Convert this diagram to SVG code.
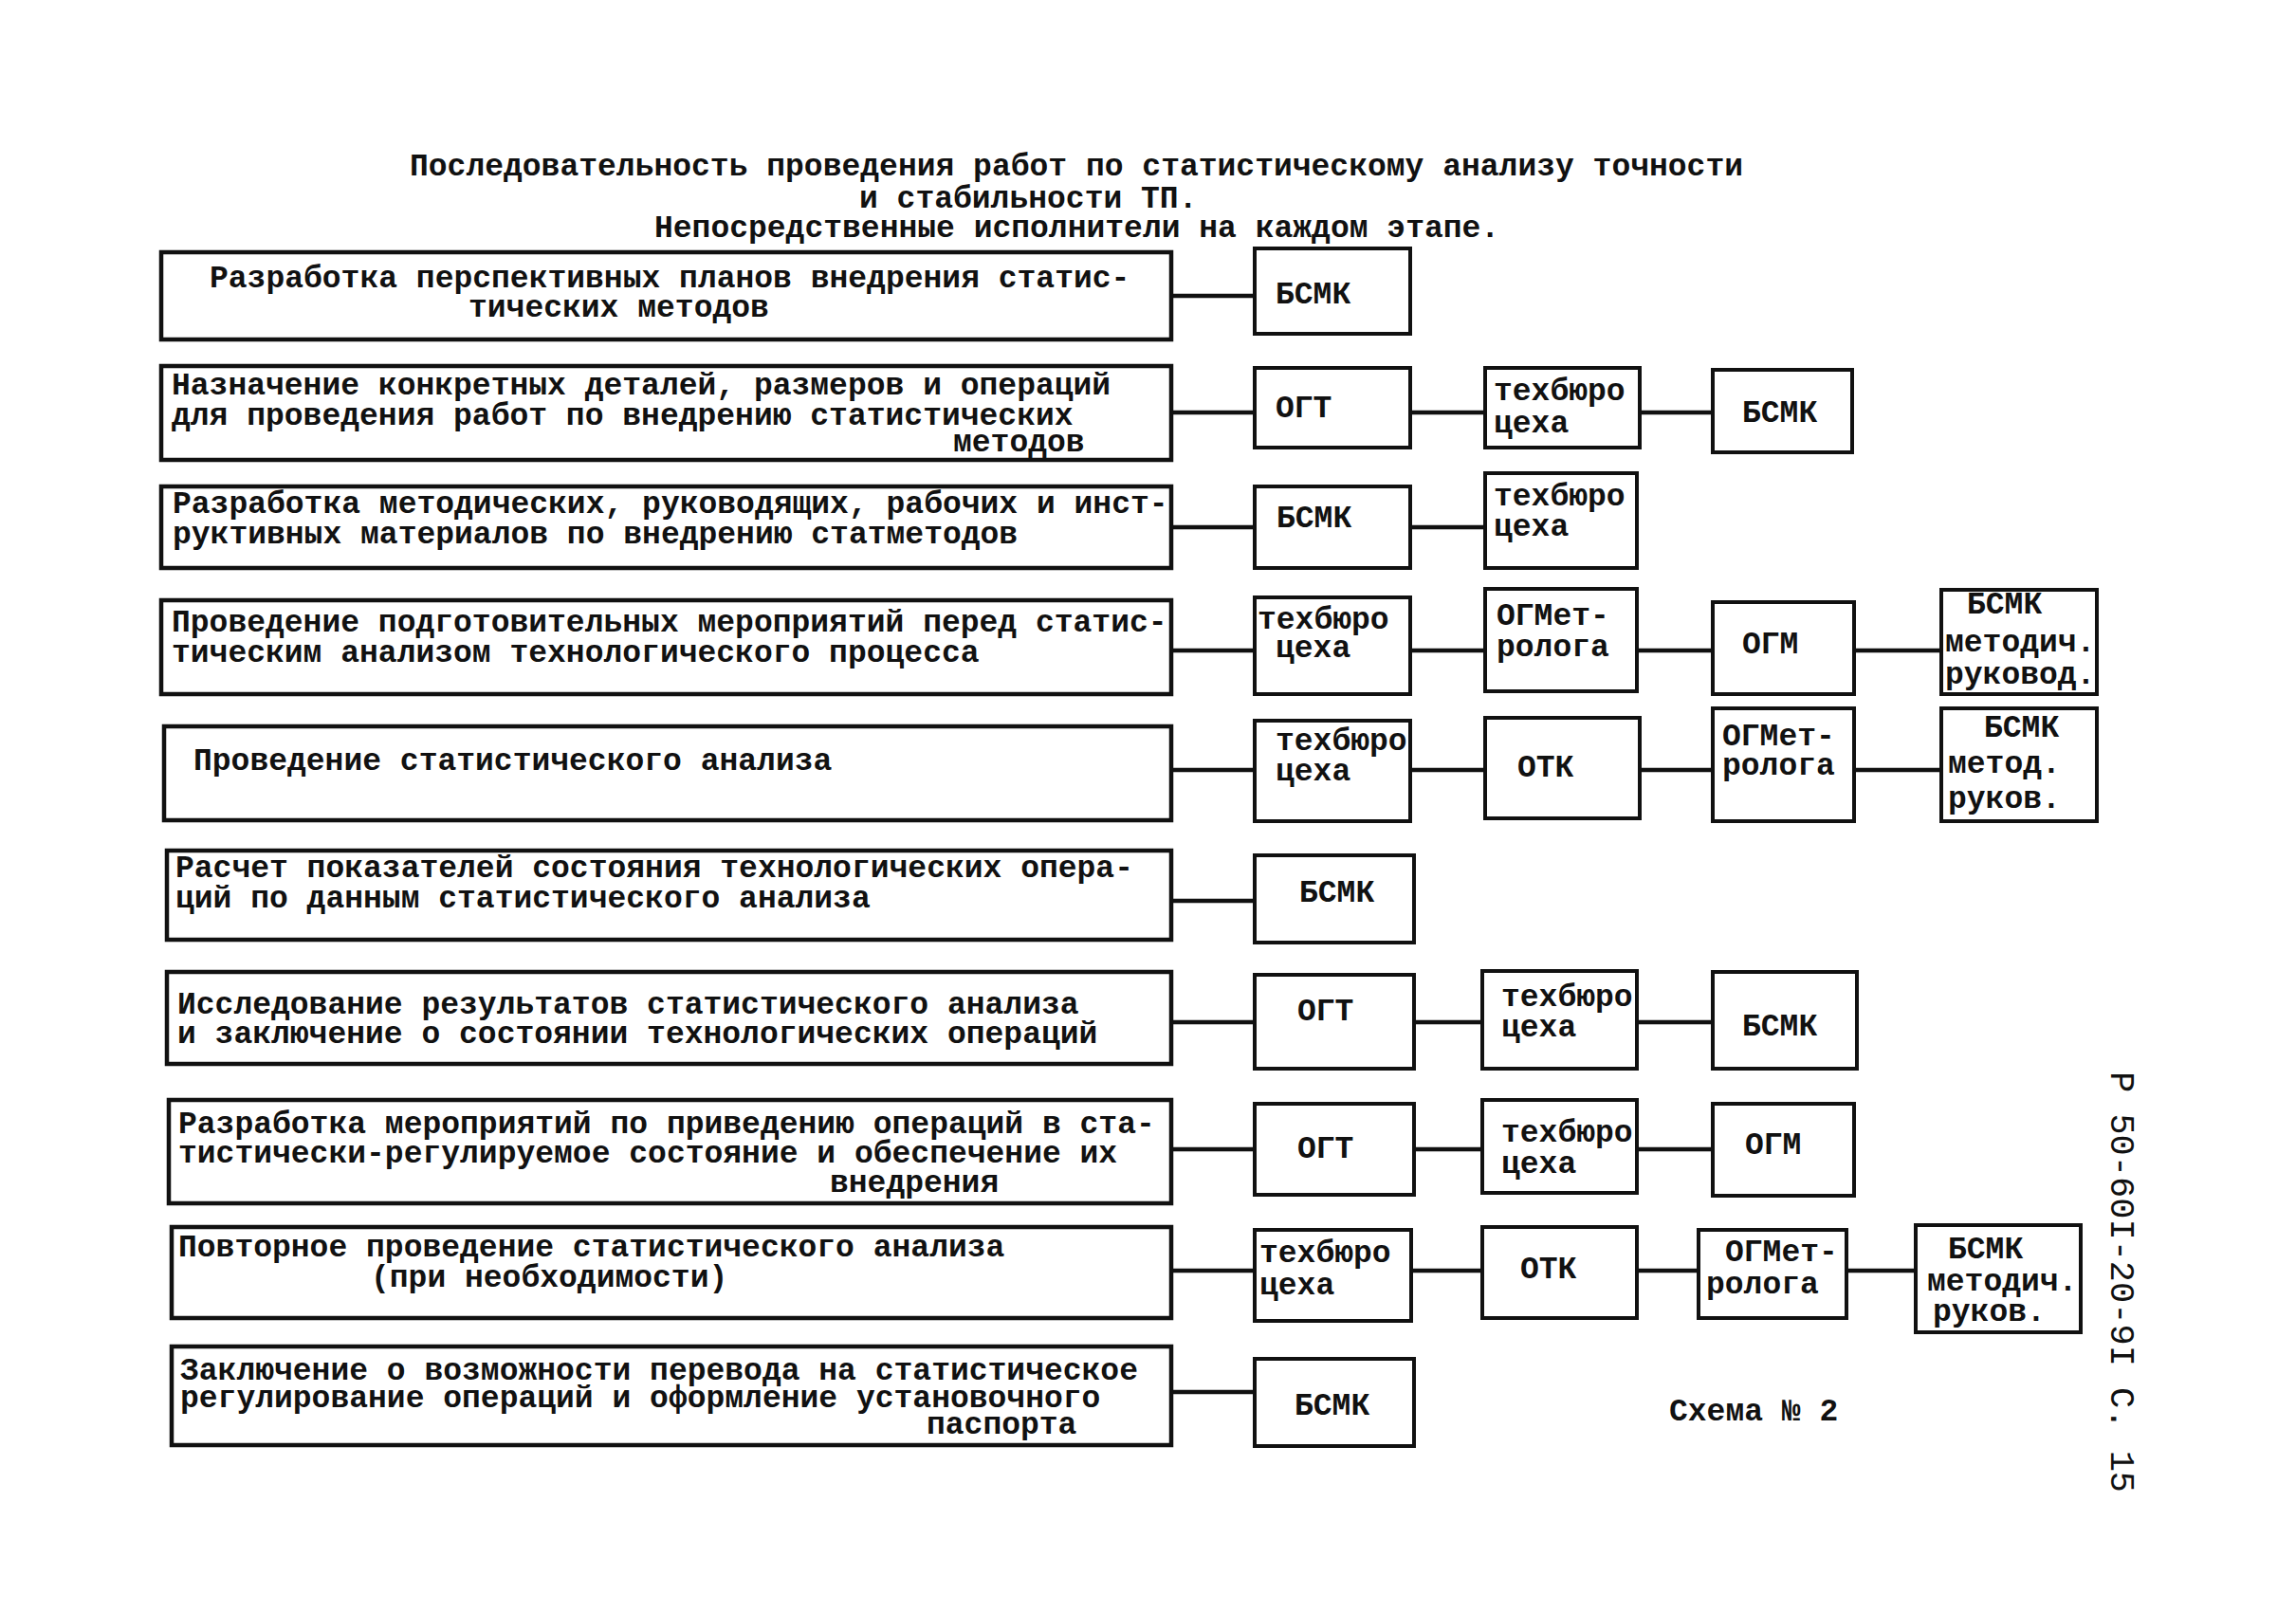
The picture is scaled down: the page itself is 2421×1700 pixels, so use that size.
<svg xmlns="http://www.w3.org/2000/svg" width="2421" height="1700" viewBox="0 0 2421 1700">
<style>
.bg{fill:#ffffff}
.box{fill:#ffffff;stroke:#111;stroke-width:4.5}
.sbox{fill:#ffffff;stroke:#111;stroke-width:4}
.t{font-family:"Liberation Mono","DejaVu Sans Mono",monospace;font-weight:bold;font-size:33px;fill:#111}
.c{stroke:#111;stroke-width:4.5;fill:none}
</style>
<rect class="bg" x="0" y="0" width="2421" height="1700"/>
<g id="title">
<text class="t" x="432" y="185">Последовательность проведения работ по статистическому анализу точности</text>
<text class="t" x="906" y="219">и стабильности ТП.</text>
<text class="t" x="690" y="250">Непосредственные исполнители на каждом этапе.</text>
</g>
<g id="connectors">
<path class="c" d="M1235 312H1323"/>
<path class="c" d="M1235 435H1323M1487 435H1566M1729 435H1806"/>
<path class="c" d="M1235 556H1323M1487 556H1566"/>
<path class="c" d="M1235 686H1323M1487 686H1566M1726 686H1806M1955 686H2047"/>
<path class="c" d="M1235 812H1323M1487 812H1566M1729 812H1806M1955 812H2047"/>
<path class="c" d="M1235 950H1323"/>
<path class="c" d="M1235 1078H1323M1491 1078H1563M1726 1078H1806"/>
<path class="c" d="M1235 1212H1323M1491 1212H1563M1726 1212H1806"/>
<path class="c" d="M1235 1340H1323M1488 1340H1563M1726 1340H1791M1947 1340H2020"/>
<path class="c" d="M1235 1468H1323"/>
</g>
<g id="step1"><rect class="box" x="170" y="266" width="1065" height="92"/>
<text class="t" x="221" y="303">Разработка перспективных планов внедрения статис-</text>
<text class="t" x="494" y="334">тических методов</text></g>
<g id="step2"><rect class="box" x="170" y="386" width="1065" height="99"/>
<text class="t" x="181" y="416">Назначение конкретных деталей, размеров и операций</text>
<text class="t" x="181" y="448">для проведения работ по внедрению статистических</text>
<text class="t" x="1005" y="476">методов</text></g>
<g id="step3"><rect class="box" x="170" y="513" width="1065" height="86"/>
<text class="t" x="182" y="541">Разработка методических, руководящих, рабочих и инст-</text>
<text class="t" x="182" y="573">руктивных материалов по внедрению статметодов</text></g>
<g id="step4"><rect class="box" x="170" y="633" width="1065" height="99"/>
<text class="t" x="181" y="666">Проведение подготовительных мероприятий перед статис-</text>
<text class="t" x="181" y="698">тическим анализом технологического процесса</text></g>
<g id="step5"><rect class="box" x="173" y="766" width="1062" height="99"/>
<text class="t" x="204" y="812">Проведение статистического анализа</text></g>
<g id="step6"><rect class="box" x="176" y="897" width="1059" height="94"/>
<text class="t" x="185" y="925">Расчет показателей состояния технологических опера-</text>
<text class="t" x="185" y="957">ций по данным статистического анализа</text></g>
<g id="step7"><rect class="box" x="176" y="1025" width="1059" height="97"/>
<text class="t" x="187" y="1069">Исследование результатов статистического анализа</text>
<text class="t" x="187" y="1100">и заключение о состоянии технологических операций</text></g>
<g id="step8"><rect class="box" x="178" y="1160" width="1057" height="109"/>
<text class="t" x="188" y="1195">Разработка мероприятий по приведению операций в ста-</text>
<text class="t" x="188" y="1226">тистически-регулируемое состояние и обеспечение их</text>
<text class="t" x="875" y="1257">внедрения</text></g>
<g id="step9"><rect class="box" x="181" y="1294" width="1054" height="96"/>
<text class="t" x="188" y="1325">Повторное проведение статистического анализа</text>
<text class="t" x="391" y="1357">(при необходимости)</text></g>
<g id="step10"><rect class="box" x="181" y="1420" width="1054" height="104"/>
<text class="t" x="190" y="1455">Заключение о возможности перевода на статистическое</text>
<text class="t" x="190" y="1484">регулирование операций и оформление установочного</text>
<text class="t" x="977" y="1512">паспорта</text></g>

<g id="r1a"><rect class="sbox" x="1323" y="262" width="164" height="90"/><text class="t" x="1345" y="320">БСМК</text></g>

<g id="r2a"><rect class="sbox" x="1323" y="388" width="164" height="84"/><text class="t" x="1345" y="440">ОГТ</text></g>
<g id="r2b"><rect class="sbox" x="1566" y="388" width="163" height="84"/><text class="t" x="1575" y="422">техбюро</text><text class="t" x="1575" y="456">цеха</text></g>
<g id="r2c"><rect class="sbox" x="1806" y="390" width="147" height="87"/><text class="t" x="1837" y="445">БСМК</text></g>

<g id="r3a"><rect class="sbox" x="1323" y="513" width="164" height="86"/><text class="t" x="1346" y="556">БСМК</text></g>
<g id="r3b"><rect class="sbox" x="1566" y="499" width="160" height="100"/><text class="t" x="1575" y="533">техбюро</text><text class="t" x="1575" y="565">цеха</text></g>

<g id="r4a"><rect class="sbox" x="1323" y="630" width="164" height="102"/><text class="t" x="1326" y="663">техбюро</text><text class="t" x="1345" y="693">цеха</text></g>
<g id="r4b"><rect class="sbox" x="1566" y="621" width="160" height="108"/><text class="t" x="1578" y="659">ОГМет-</text><text class="t" x="1578" y="692">ролога</text></g>
<g id="r4c"><rect class="sbox" x="1806" y="635" width="149" height="97"/><text class="t" x="1837" y="689">ОГМ</text></g>
<g id="r4d"><rect class="sbox" x="2047" y="622" width="164" height="110"/><text class="t" x="2074" y="647">БСМК</text><text class="t" x="2051" y="687">методич.</text><text class="t" x="2051" y="721">руковод.</text></g>

<g id="r5a"><rect class="sbox" x="1323" y="760" width="164" height="106"/><text class="t" x="1345" y="791">техбюро</text><text class="t" x="1345" y="823">цеха</text></g>
<g id="r5b"><rect class="sbox" x="1566" y="757" width="163" height="106"/><text class="t" x="1600" y="819">ОТК</text></g>
<g id="r5c"><rect class="sbox" x="1806" y="747" width="149" height="119"/><text class="t" x="1816" y="786">ОГМет-</text><text class="t" x="1816" y="817">ролога</text></g>
<g id="r5d"><rect class="sbox" x="2047" y="747" width="164" height="119"/><text class="t" x="2092" y="777">БСМК</text><text class="t" x="2054" y="815">метод.</text><text class="t" x="2054" y="852">руков.</text></g>

<g id="r6a"><rect class="sbox" x="1323" y="902" width="168" height="92"/><text class="t" x="1370" y="951">БСМК</text></g>

<g id="r7a"><rect class="sbox" x="1323" y="1028" width="168" height="99"/><text class="t" x="1368" y="1076">ОГТ</text></g>
<g id="r7b"><rect class="sbox" x="1563" y="1024" width="163" height="103"/><text class="t" x="1583" y="1061">техбюро</text><text class="t" x="1583" y="1093">цеха</text></g>
<g id="r7c"><rect class="sbox" x="1806" y="1025" width="152" height="102"/><text class="t" x="1837" y="1092">БСМК</text></g>

<g id="r8a"><rect class="sbox" x="1323" y="1164" width="168" height="96"/><text class="t" x="1368" y="1221">ОГТ</text></g>
<g id="r8b"><rect class="sbox" x="1563" y="1160" width="163" height="98"/><text class="t" x="1583" y="1204">техбюро</text><text class="t" x="1583" y="1237">цеха</text></g>
<g id="r8c"><rect class="sbox" x="1806" y="1164" width="149" height="97"/><text class="t" x="1840" y="1217">ОГМ</text></g>

<g id="r9a"><rect class="sbox" x="1323" y="1297" width="165" height="96"/><text class="t" x="1328" y="1331">техбюро</text><text class="t" x="1328" y="1365">цеха</text></g>
<g id="r9b"><rect class="sbox" x="1563" y="1294" width="163" height="96"/><text class="t" x="1603" y="1348">ОТК</text></g>
<g id="r9c"><rect class="sbox" x="1791" y="1297" width="156" height="93"/><text class="t" x="1819" y="1330">ОГМет-</text><text class="t" x="1799" y="1364">ролога</text></g>
<g id="r9d"><rect class="sbox" x="2020" y="1292" width="174" height="113"/><text class="t" x="2054" y="1327">БСМК</text><text class="t" x="2032" y="1361">методич.</text><text class="t" x="2038" y="1393">руков.</text></g>

<g id="r10a"><rect class="sbox" x="1323" y="1433" width="168" height="92"/><text class="t" x="1365" y="1492">БСМК</text></g>

<g id="caption"><text class="t" x="1760" y="1498">Схема № 2</text></g>
<g id="pageref"><text class="t" style="font-size:37px;font-weight:normal" transform="translate(2226,1130) rotate(90)" x="0" y="0">Р 50-60I-20-9I С. 15</text></g>
</svg>
